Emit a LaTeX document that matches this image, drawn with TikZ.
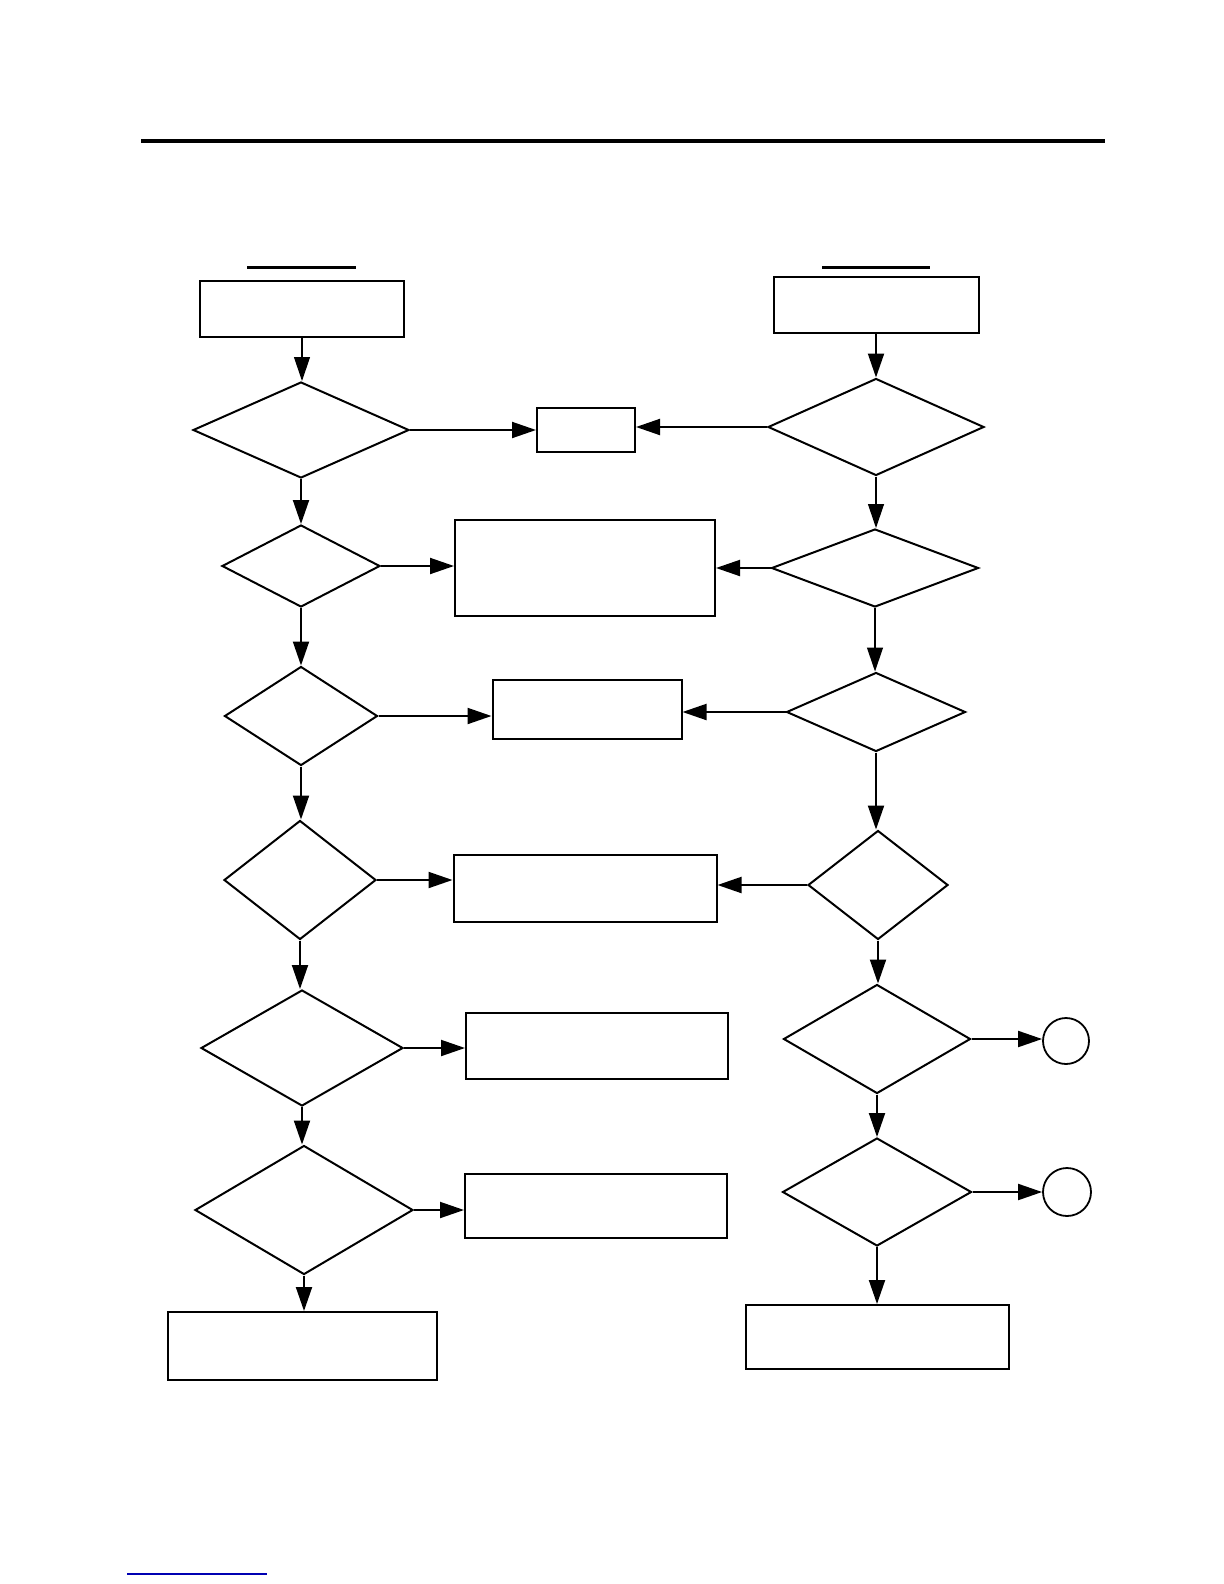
\documentclass[tikz,border=0pt]{standalone}
\usepackage{tikz}
\usetikzlibrary{positioning,arrows.meta,shapes.geometric}
\tikzset{
  stepbox/.style={rectangle, draw=black, line width=1pt, inner sep=0pt},
  decision/.style={diamond, draw=black, line width=1pt, inner sep=0pt},
  joint/.style={circle, draw=black, line width=0.9pt, inner sep=0pt},
  arr/.style={-{Triangle[length=12pt, width=8pt]}, line width=1pt},
  bar/.style={line width=1.5pt},
}
\begin{document}
\begin{tikzpicture}[x=0.5pt, y=-0.5pt]
  \useasboundingbox (0,0) rectangle (1224,1584);
  \draw[bar] (141,141) -- (1105,141);
  \draw[bar] (247,267) -- (356,267);
  \draw[bar] (822,267) -- (930,267);
  \draw[blue!70!black, line width=0.7pt] (127,1574) -- (267,1574);

  % left column
  \node[stepbox, minimum width=102pt, minimum height=28pt] (topL) at (302,309) {};
  \node[decision, minimum width=108pt, minimum height=48pt] (dL1) at (301,430) {};
  \node[decision, minimum width=79pt, minimum height=41pt] (dL2) at (301,566) {};
  \node[decision, minimum width=76.5pt, minimum height=49.5pt] (dL3) at (301,716) {};
  \node[decision, minimum width=76pt, minimum height=59.5pt] (dL4) at (300,880) {};
  \node[decision, minimum width=101pt, minimum height=58pt] (dL5) at (302,1048) {};
  \node[decision, minimum width=109pt, minimum height=64.5pt] (dL6) at (304,1210) {};
  \node[stepbox, minimum width=134.5pt, minimum height=34pt] (endL) at (302,1346) {};

  % middle column
  \node[stepbox, minimum width=49pt, minimum height=22pt] (mid1) at (586,430) {};
  \node[stepbox, minimum width=130pt, minimum height=48pt] (mid2) at (585,568) {};
  \node[stepbox, minimum width=94.5pt, minimum height=29.5pt] (mid3) at (587,709) {};
  \node[stepbox, minimum width=131.5pt, minimum height=33.5pt] (mid4) at (585,888) {};
  \node[stepbox, minimum width=131pt, minimum height=33pt] (mid5) at (597,1046) {};
  \node[stepbox, minimum width=131pt, minimum height=32pt] (mid6) at (596,1206) {};

  % right column
  \node[stepbox, minimum width=102.5pt, minimum height=28pt] (topR) at (876,305) {};
  \node[decision, minimum width=108pt, minimum height=48.5pt] (dR1) at (876,427) {};
  \node[decision, minimum width=103.5pt, minimum height=39pt] (dR2) at (875,568) {};
  \node[decision, minimum width=89.5pt, minimum height=39.5pt] (dR3) at (876,712) {};
  \node[decision, minimum width=70pt, minimum height=54.5pt] (dR4) at (878,885) {};
  \node[decision, minimum width=93.5pt, minimum height=54.5pt] (dR5) at (877,1039) {};
  \node[decision, minimum width=94.5pt, minimum height=54pt] (dR6) at (877,1192) {};
  \node[stepbox, minimum width=131.5pt, minimum height=32pt] (endR) at (877,1337) {};
  \node[joint, minimum size=23pt] (jR5) at (1066,1041) {};
  \node[joint, minimum size=24pt] (jR6) at (1067,1192) {};

  \draw[arr, line width=0.6pt] (topL.south) -- (topL.south |- dL1.north);
  \draw[arr] (dL1.south) -- (dL1.south |- dL2.north);
  \draw[arr] (dL2.south) -- (dL2.south |- dL3.north);
  \draw[arr] (dL3.south) -- (dL3.south |- dL4.north);
  \draw[arr] (dL4.south) -- (dL4.south |- dL5.north);
  \draw[arr] (dL5.south) -- (dL5.south |- dL6.north);
  \draw[arr] (dL6.south) -- (dL6.south |- endL.north);

  \draw[arr] (topR.south) -- (topR.south |- dR1.north);
  \draw[arr, line width=0.6pt] (dR1.south) -- (dR1.south |- dR2.north);
  \draw[arr, line width=0.6pt] (dR2.south) -- (dR2.south |- dR3.north);
  \draw[arr] (dR3.south) -- (dR3.south |- dR4.north);
  \draw[arr] (dR4.south) -- (dR4.south |- dR5.north);
  \draw[arr] (dR5.south) -- (dR5.south |- dR6.north);
  \draw[arr] (dR6.south) -- (dR6.south |- endR.north);

  \draw[arr] (dL1.east) -- (dL1.east -| mid1.west);
  \draw[arr] (dL2.east) -- (dL2.east -| mid2.west);
  \draw[arr] (dL3.east) -- (dL3.east -| mid3.west);
  \draw[arr] (dL4.east) -- (dL4.east -| mid4.west);
  \draw[arr] (dL5.east) -- (dL5.east -| mid5.west);
  \draw[arr] (dL6.east) -- (dL6.east -| mid6.west);

  \draw[arr] (dR1.west) -- (dR1.west -| mid1.east);
  \draw[arr] (dR2.west) -- (dR2.west -| mid2.east);
  \draw[arr] (dR3.west) -- (dR3.west -| mid3.east);
  \draw[arr] (dR4.west) -- (dR4.west -| mid4.east);
  \draw[arr] (dR5.east) -- (dR5.east -| jR5.west);
  \draw[arr] (dR6.east) -- (dR6.east -| jR6.west);
\end{tikzpicture}
\end{document}
